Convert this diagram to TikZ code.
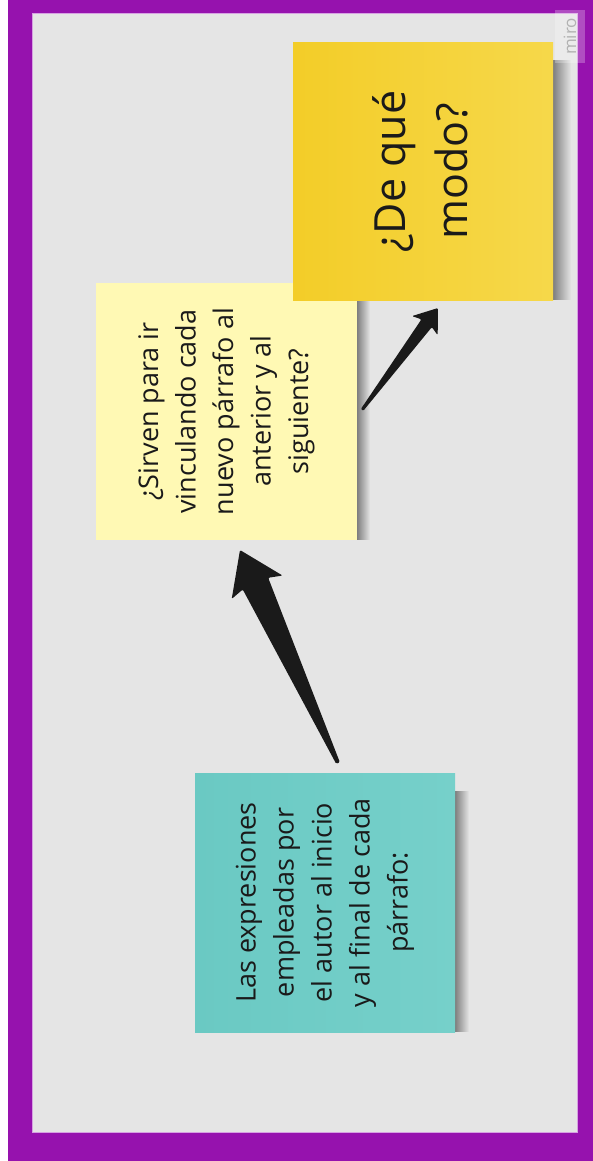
\documentclass[tikz,border=0pt]{standalone}
\usepackage{fontspec}
\setmainfont{Open Sans}
\usetikzlibrary{calc}

\definecolor{frame}{RGB}{150,18,174}
\definecolor{board}{RGB}{229,229,229}
\definecolor{rim}{RGB}{214,160,226}
\definecolor{tealL}{RGB}{106,201,195}
\definecolor{tealR}{RGB}{118,208,202}
\definecolor{paleyellow}{RGB}{255,249,180}
\definecolor{goldL}{RGB}{243,205,40}
\definecolor{goldR}{RGB}{246,216,74}
\definecolor{ink}{RGB}{26,26,26}
\definecolor{arrowink}{RGB}{26,26,26}

% tapered arrow: tail, tip, tail half width, shaft half width, join distance, barb half width, barb distance
\newcommand\fatarrow[7]{%
  \coordinate (#2-join) at ($(#2)!#5!(#1)$);
  \coordinate (#2-barb) at ($(#2)!#7!(#1)$);
  \fill[arrowink, rounded corners=1.2pt]
    ($(#1)!#3!90:(#2)$) -- ($(#2-join)!#4!90:(#2)$) -- ($(#2-barb)!#6!90:(#2)$)
    -- (#2) -- ($(#2-barb)!#6!-90:(#2)$) -- ($(#2-join)!#4!-90:(#2)$)
    -- ($(#1)!#3!-90:(#2)$) -- cycle;
}

\tikzset{
  notebox/.style={rectangle, inner sep=0pt, outer sep=0pt, draw=none},
  notetext/.style={rotate=90, align=center, text=ink, inner sep=0pt},
  noteshadow/.style={left color=black!45!board, right color=board},
}

\begin{document}
\begin{tikzpicture}[x=1pt, y=-1pt]
  \useasboundingbox (0,0) rectangle (593,1161);
  % frame and board
  \fill[white] (0,0) rectangle (593,1161);
  \fill[frame] (8,0) rectangle (593,1161);
  \filldraw[fill=board, draw=rim, line width=0.8pt] (32,13) rectangle (577,1132);

  % pale yellow note
  \node[notebox, fill=paleyellow, minimum width=261pt, minimum height=257pt] (pale) at (226.5,411.5) {};
  \shade[noteshadow] ($(pale.north east)+(0,18)$) rectangle ($(pale.south east)+(13,-1)$);
  \fill[paleyellow] (pale.north west) rectangle (pale.south east);
  \node[notetext, font=\fontsize{27}{37.5}\selectfont] at (pale.center)
    {¿Sirven para ir\\vinculando cada\\nuevo párrafo al\\anterior y al\\siguiente?};

  % teal note
  \node[notebox, minimum width=260pt, minimum height=259pt] (teal) at (325,902.5) {};
  \shade[noteshadow] ($(teal.north east)+(0,18)$) rectangle ($(teal.south east)+(14,-1)$);
  \shade[left color=tealL, right color=tealR] (teal.north west) rectangle (teal.south east);
  \node[notetext, font=\fontsize{27}{38}\selectfont] at (teal.center)
    {Las expresiones\\empleadas por\\el autor al inicio\\y al final de cada\\párrafo:};

  % gold note
  \node[notebox, minimum width=260pt, minimum height=257pt] (gold) at (423,171.5) {};
  \shade[noteshadow] ($(gold.north east)+(0,18)$) rectangle ($(gold.south east)+(18,-1)$);
  \shade[left color=goldL, right color=goldR] (gold.north west) rectangle (gold.south east);
  \node[notetext, font=\fontsize{43}{62}\selectfont] at ($(gold.center)+(-3,0)$)
    {¿De qué\\modo?};

  % connectors
  \coordinate (tailA) at ($(teal.north)+(13,-10)$);
  \coordinate (tipA) at ($(pale.south)+(13.5,10)$);
  \fatarrow{tailA}{tipA}{2pt}{14pt}{37pt}{28pt}{41pt}
  \coordinate (tailB) at ($(pale.east)+(5,-1.5)$);
  \coordinate (tipB) at ($(gold.south)+(15,8)$);
  \fatarrow{tailB}{tipB}{1.5pt}{6.5pt}{19pt}{16pt}{22pt}

  % watermark
  \node[rectangle, fill=white, fill opacity=0.25, minimum width=30pt, minimum height=53pt, inner sep=0pt] (mark) at (570,36.5) {};
  \node[rotate=90, text=black!30, font=\fontsize{17}{17}\selectfont, inner sep=0pt] at (mark.center) {miro};
\end{tikzpicture}
\end{document}
